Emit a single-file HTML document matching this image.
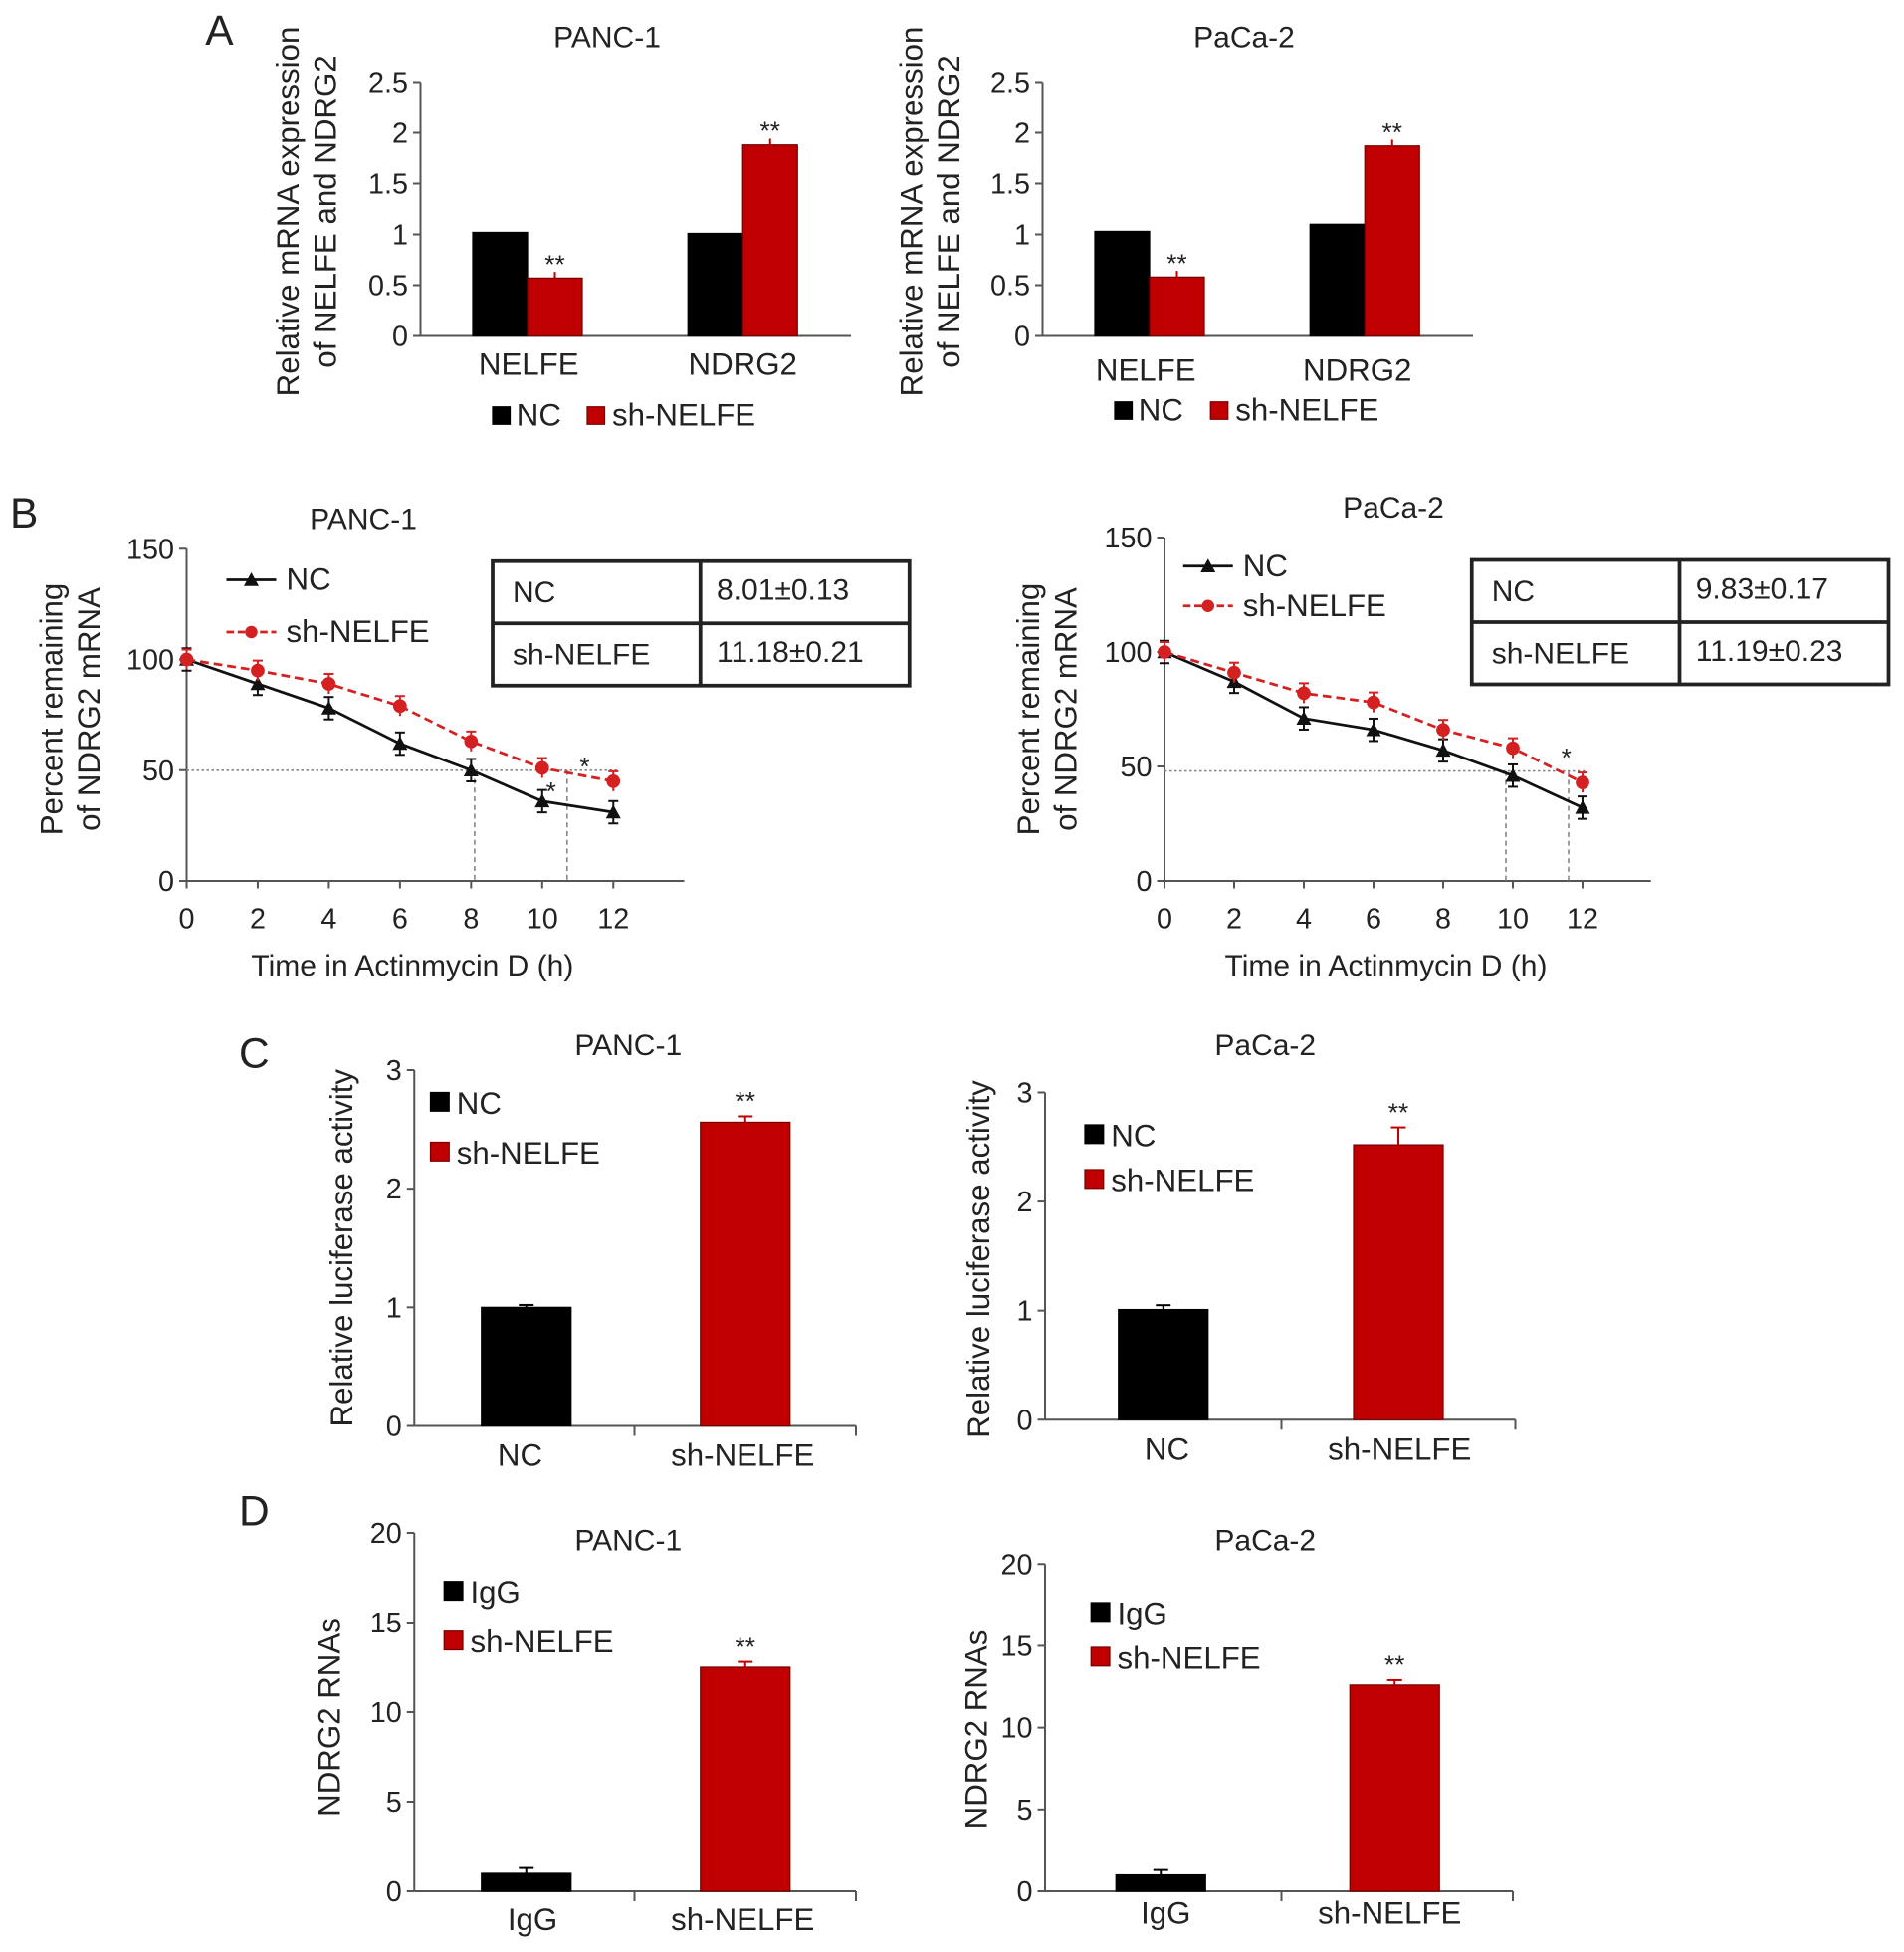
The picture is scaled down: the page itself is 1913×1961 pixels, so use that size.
<!DOCTYPE html>
<html><head><meta charset="utf-8"><style>
html,body{margin:0;padding:0;background:#fff}
svg{display:block}
text{font-family:"Liberation Sans",Arial,sans-serif;fill:#222}
</style></head><body>
<svg id="fig" width="1913" height="1961" viewBox="0 0 1530.4 1568.8" preserveAspectRatio="none" xmlns="http://www.w3.org/2000/svg"></svg>
<script>
// Panel A data
const aCategories=["NELFE","NDRG2"];
const aPancNC=[1.02,1.01];
const aPancSh=[0.57,1.88];
const aPacaNC=[1.03,1.10];
const aPacaSh=[0.58,1.87];
const aTicks=["0","0.5","1","1.5","2","2.5"];
// Panel B data
const bHours=[0,2,4,6,8,10,12];
const bPancNC=[100,89,78,62,50,36,31];
const bPancSh=[100,95,89,79,63,51,45];
const bPacaNC=[100,87,71,66,57,46,32];
const bPacaSh=[100,91,82,78,66,58,43];
const bTicks=["0","50","100","150"];
const bPancHalf=[8.1,10.7];
const bPacaHalf=[9.8,11.6];
const bPancTable=[["NC","8.01±0.13"],["sh-NELFE","11.18±0.21"]];
const bPacaTable=[["NC","9.83±0.17"],["sh-NELFE","11.19±0.23"]];
// Panel C data
const cCategories=["NC","sh-NELFE"];
const cPanc=[1.0,2.56];
const cPaca=[1.01,2.52];
const cTicks=["0","1","2","3"];
// Panel D data
const dCategories=["IgG","sh-NELFE"];
const dPanc=[1.0,12.5];
const dPaca=[1.0,12.6];
const dTicks=["0","5","10","15","20"];

const svg=document.getElementById('fig');
const NS='http://www.w3.org/2000/svg';
function mk(tag,at,parent){const e=document.createElementNS(NS,tag);for(const k in at)e.setAttribute(k,at[k]);(parent||svg).appendChild(e);return e;}
function tx(s,x,y,at,name){const e=mk('text',Object.assign({x:x,y:y,'font-size':23},at||{}));e.textContent=s;


return e;}
function ln(x1,y1,x2,y2,at){const e=mk('line',Object.assign({x1:x1,y1:y1,x2:x2,y2:y2,stroke:'#555','stroke-width':1.6},at||{}));


return e;}
function rc(x,y,w,h,fill,name){const e=mk('rect',{x:x,y:y,width:w,height:h,fill:fill,stroke:fill=='#000'?'#000':'#7a0000','stroke-width':1});


return e;}
function ytitle(lines,xs,cy){lines.forEach((l,i)=>{tx(l,xs[i],cy,{'text-anchor':'middle','font-size':25,transform:'rotate(-90 '+xs[i]+' '+cy+')'},'y-axis-title');});}
function yaxis(x,y0,yTop,x1,ticks,max){ln(x,yTop,x,y0);ln(x,y0,x1,y0);
ticks.forEach(t=>{const y=y0-(parseFloat(t)/max)*(y0-yTop);ln(x-6,y,x,y);tx(t,x-10,y+8,{'text-anchor':'end'},'y-tick-label');});}
function star(s,x,y,col){tx(s,x,y,{'text-anchor':'middle','font-size':21,fill:col||'#333'},'significance-star');}

// Panel A
function panelA(ax,nc,sh,title,tx0,catX,catY,legY,legX){
 const y0=270,yTop=66,max=2.5;const ys=v=>y0-v/max*(y0-yTop);
 yaxis(ax,y0,yTop,ax+346,aTicks,max);
 tx(title,tx0,38,{'text-anchor':'middle','font-size':24},'chart-title');
 const gx=[ax+42,ax+215];
 aCategories.forEach((c,i)=>{
  rc(gx[i],ys(nc[i]),44,y0-ys(nc[i]),'#000','bar-nc-'+c.toLowerCase());
  rc(gx[i]+44,ys(sh[i]),44,y0-ys(sh[i]),'#c00000','bar-sh-'+c.toLowerCase());
  ln(gx[i]+66,ys(sh[i])-5,gx[i]+66,ys(sh[i]),{stroke:'#c00000'});
  star('**',gx[i]+66,ys(sh[i])-4);
  tx(c,catX[i],catY,{'text-anchor':'middle','font-size':25},'x-category-label');
 });
 rc(legX[0],legY-15,14,14,'#000','legend-swatch-nc');tx('NC',legX[0]+19,legY,{'font-size':25},'legend-label');
 rc(legX[1],legY-15,14,14,'#c00000','legend-swatch-sh');tx('sh-NELFE',legX[1]+20,legY,{'font-size':25},'legend-label');
}
tx('A',165,36,{'font-size':34},'panel-letter');
panelA(338,aPancNC,aPancSh,'PANC-1',488,[425,597],301,342,[396,472]);
ytitle(['Relative mRNA expression','of NELFE and NDRG2'],[240,270],170);
panelA(838,aPacaNC,aPacaSh,'PaCa-2',1000,[921,1091],306,338,[896,973]);
ytitle(['Relative mRNA expression','of NELFE and NDRG2'],[741,771],170);

// Panel B
function panelB(ax,y0,yTop,x12,xEnd,nc,sh,half,table,tbl,title,tpos,leg,hy){
 const max=150;const ys=v=>y0-v/max*(y0-yTop);const xs=h=>ax+h/12*(x12-ax);
 yaxis(ax,y0,yTop,xEnd,bTicks,max);
 bHours.forEach(h=>{ln(xs(h),y0,xs(h),y0+6);tx(String(h),xs(h),y0+38,{'text-anchor':'middle'},'x-tick-label');});
 tx(title,tpos[0],tpos[1],{'text-anchor':'middle','font-size':24},'chart-title');
 tx('Time in Actinmycin D (h)',(ax+x12)/2+10,y0+76,{'text-anchor':'middle','font-size':24},'x-axis-title');
 ln(ax,ys(hy),x12+(xEnd-x12)*0.05,ys(hy),{stroke:'#888','stroke-dasharray':'2,2','stroke-width':1.3});
 half.forEach(h=>ln(xs(h),ys(hy),xs(h),y0,{stroke:'#888','stroke-dasharray':'4,3','stroke-width':1.3}));
 const pNC=mk('polyline',{points:bHours.map((h,i)=>xs(h)+','+ys(nc[i])).join(' '),fill:'none',stroke:'#111','stroke-width':2.2});
 
 
 const pSh=mk('polyline',{points:bHours.map((h,i)=>xs(h)+','+ys(sh[i])).join(' '),fill:'none',stroke:'#d42020','stroke-width':2.2,'stroke-dasharray':'7,4'});
 
 
 bHours.forEach((h,i)=>{
  const x=xs(h);
  ln(x,ys(nc[i])-9,x,ys(nc[i])+9,{stroke:'#111'});
  ln(x-4,ys(nc[i])-9,x+4,ys(nc[i])-9,{stroke:'#111'});
  ln(x-4,ys(nc[i])+9,x+4,ys(nc[i])+9,{stroke:'#111'});
  const tri=mk('polygon',{points:(x-6)+','+(ys(nc[i])+5)+' '+(x+6)+','+(ys(nc[i])+5)+' '+x+','+(ys(nc[i])-6),fill:'#111'});
  
  
  ln(x,ys(sh[i])-8,x,ys(sh[i])+8,{stroke:'#d42020'});
  ln(x-4,ys(sh[i])-8,x+4,ys(sh[i])-8,{stroke:'#d42020'});
  const c=mk('circle',{cx:x,cy:ys(sh[i]),r:5.5,fill:'#d42020'});
  
  
 });
 ln(leg[0],leg[1],leg[0]+40,leg[1],{stroke:'#111','stroke-width':2.2});
 const lt=mk('polygon',{points:(leg[0]+14)+','+(leg[1]+5)+' '+(leg[0]+26)+','+(leg[1]+5)+' '+(leg[0]+20)+','+(leg[1]-6),fill:'#111'});
 
 
 tx('NC',leg[0]+48,leg[1]+8,{'font-size':25},'legend-label');
 ln(leg[0],leg[2],leg[0]+40,leg[2],{stroke:'#d42020','stroke-width':2.2,'stroke-dasharray':'6,3'});
 const lc=mk('circle',{cx:leg[0]+20,cy:leg[2],r:5,fill:'#d42020'});
 
 
 tx('sh-NELFE',leg[0]+48,leg[2]+8,{'font-size':25},'legend-label');
 const [x1,y1,x2,y2,xd]=tbl;const ym=(y1+y2)/2;
 const box=mk('rect',{x:x1,y:y1,width:x2-x1,height:y2-y1,fill:'none',stroke:'#222','stroke-width':3});
 
 
 ln(x1,ym,x2,ym,{stroke:'#222','stroke-width':3});ln(xd,y1,xd,y2,{stroke:'#222','stroke-width':3});
 table.forEach((r,i)=>{const yy=(i?ym:y1)+33;tx(r[0],x1+16,yy,{'font-size':24},'table-cell');tx(r[1],xd+13,yy-2,{'font-size':24},'table-cell');});
}
tx('B',8,424,{'font-size':34},'panel-letter');
panelB(150,708,441,493,550,bPancNC,bPancSh,bPancHalf,bPancTable,[396,451,731,551,563],'PANC-1',[292,425],[182,466,508],50);
star('*',443,643,'#111');star('*',470,623,'#666');
ytitle(['Percent remaining','of NDRG2 mRNA'],[50,80],570);
panelB(936,708,432,1272,1327,bPacaNC,bPacaSh,bPacaHalf,bPacaTable,[1183,450,1518,550,1350],'PaCa-2',[1120,416],[951,455,487],48);
star('*',1259,616,'#111');
ytitle(['Percent remaining','of NDRG2 mRNA'],[835,865],570);

// Panels C & D
function panel2(ax,y0,yTop,xEnd,xdiv,ticks,max,cats,vals,errs,bx,title,titleX,titleY,legX,legY,catY,catX,ytl,ytx,yty){
 const ys=v=>y0-v/max*(y0-yTop);
 yaxis(ax,y0,yTop,xEnd,ticks,max);
 ln(xdiv,y0,xdiv,y0+8);ln(xEnd,y0,xEnd,y0+8);
 tx(title,titleX,titleY,{'text-anchor':'middle','font-size':24},'chart-title');
 const cols=['#000','#c00000'];
 cats.forEach((c,i)=>{
  rc(bx[i],ys(vals[i]),72,y0-ys(vals[i]),cols[i],'bar-'+c.toLowerCase());
  ln(bx[i]+36,ys(vals[i]+errs[i]),bx[i]+36,ys(vals[i]),{stroke:cols[i]});
  ln(bx[i]+30,ys(vals[i]+errs[i]),bx[i]+42,ys(vals[i]+errs[i]),{stroke:cols[i]});
  tx(c,catX[i],catY,{'text-anchor':'middle','font-size':25},'x-category-label');
  rc(legX,legY[i]-15,15,15,cols[i],'legend-swatch');
  tx(c,legX+21,legY[i]+2,{'font-size':25},'legend-label');
 });
 star('**',bx[1]+36,ys(vals[1]+errs[1])-5);
 ytitle([ytl],[ytx],yty);
}
tx('C',192,858,{'font-size':34},'panel-letter');
panel2(333,1146,860,688,510,cTicks,3,cCategories,cPanc,[0.02,0.05],[387,563],'PANC-1',505,848,346,[893,933],1178,[418,597],'Relative luciferase activity',283,1003);
panel2(840,1141,878,1218,1030,cTicks,3,cCategories,cPaca,[0.04,0.16],[899,1088],'PaCa-2',1017,848,872,[919,955],1173,[938,1125],'Relative luciferase activity',795,1012);
tx('D',192,1226,{'font-size':34},'panel-letter');
panel2(333,1520,1232,688,510,dTicks,20,dCategories,dPanc,[0.3,0.3],[387,563],'PANC-1',505,1246,357,[1286,1326],1551,[428,597],'NDRG2 RNAs',273,1380);
panel2(840,1520,1257,1216,1030,dTicks,20,dCategories,dPaca,[0.3,0.3],[897,1085],'PaCa-2',1017,1246,877,[1303,1339],1546,[937,1117],'NDRG2 RNAs',793,1390);
</script>
</body></html>
